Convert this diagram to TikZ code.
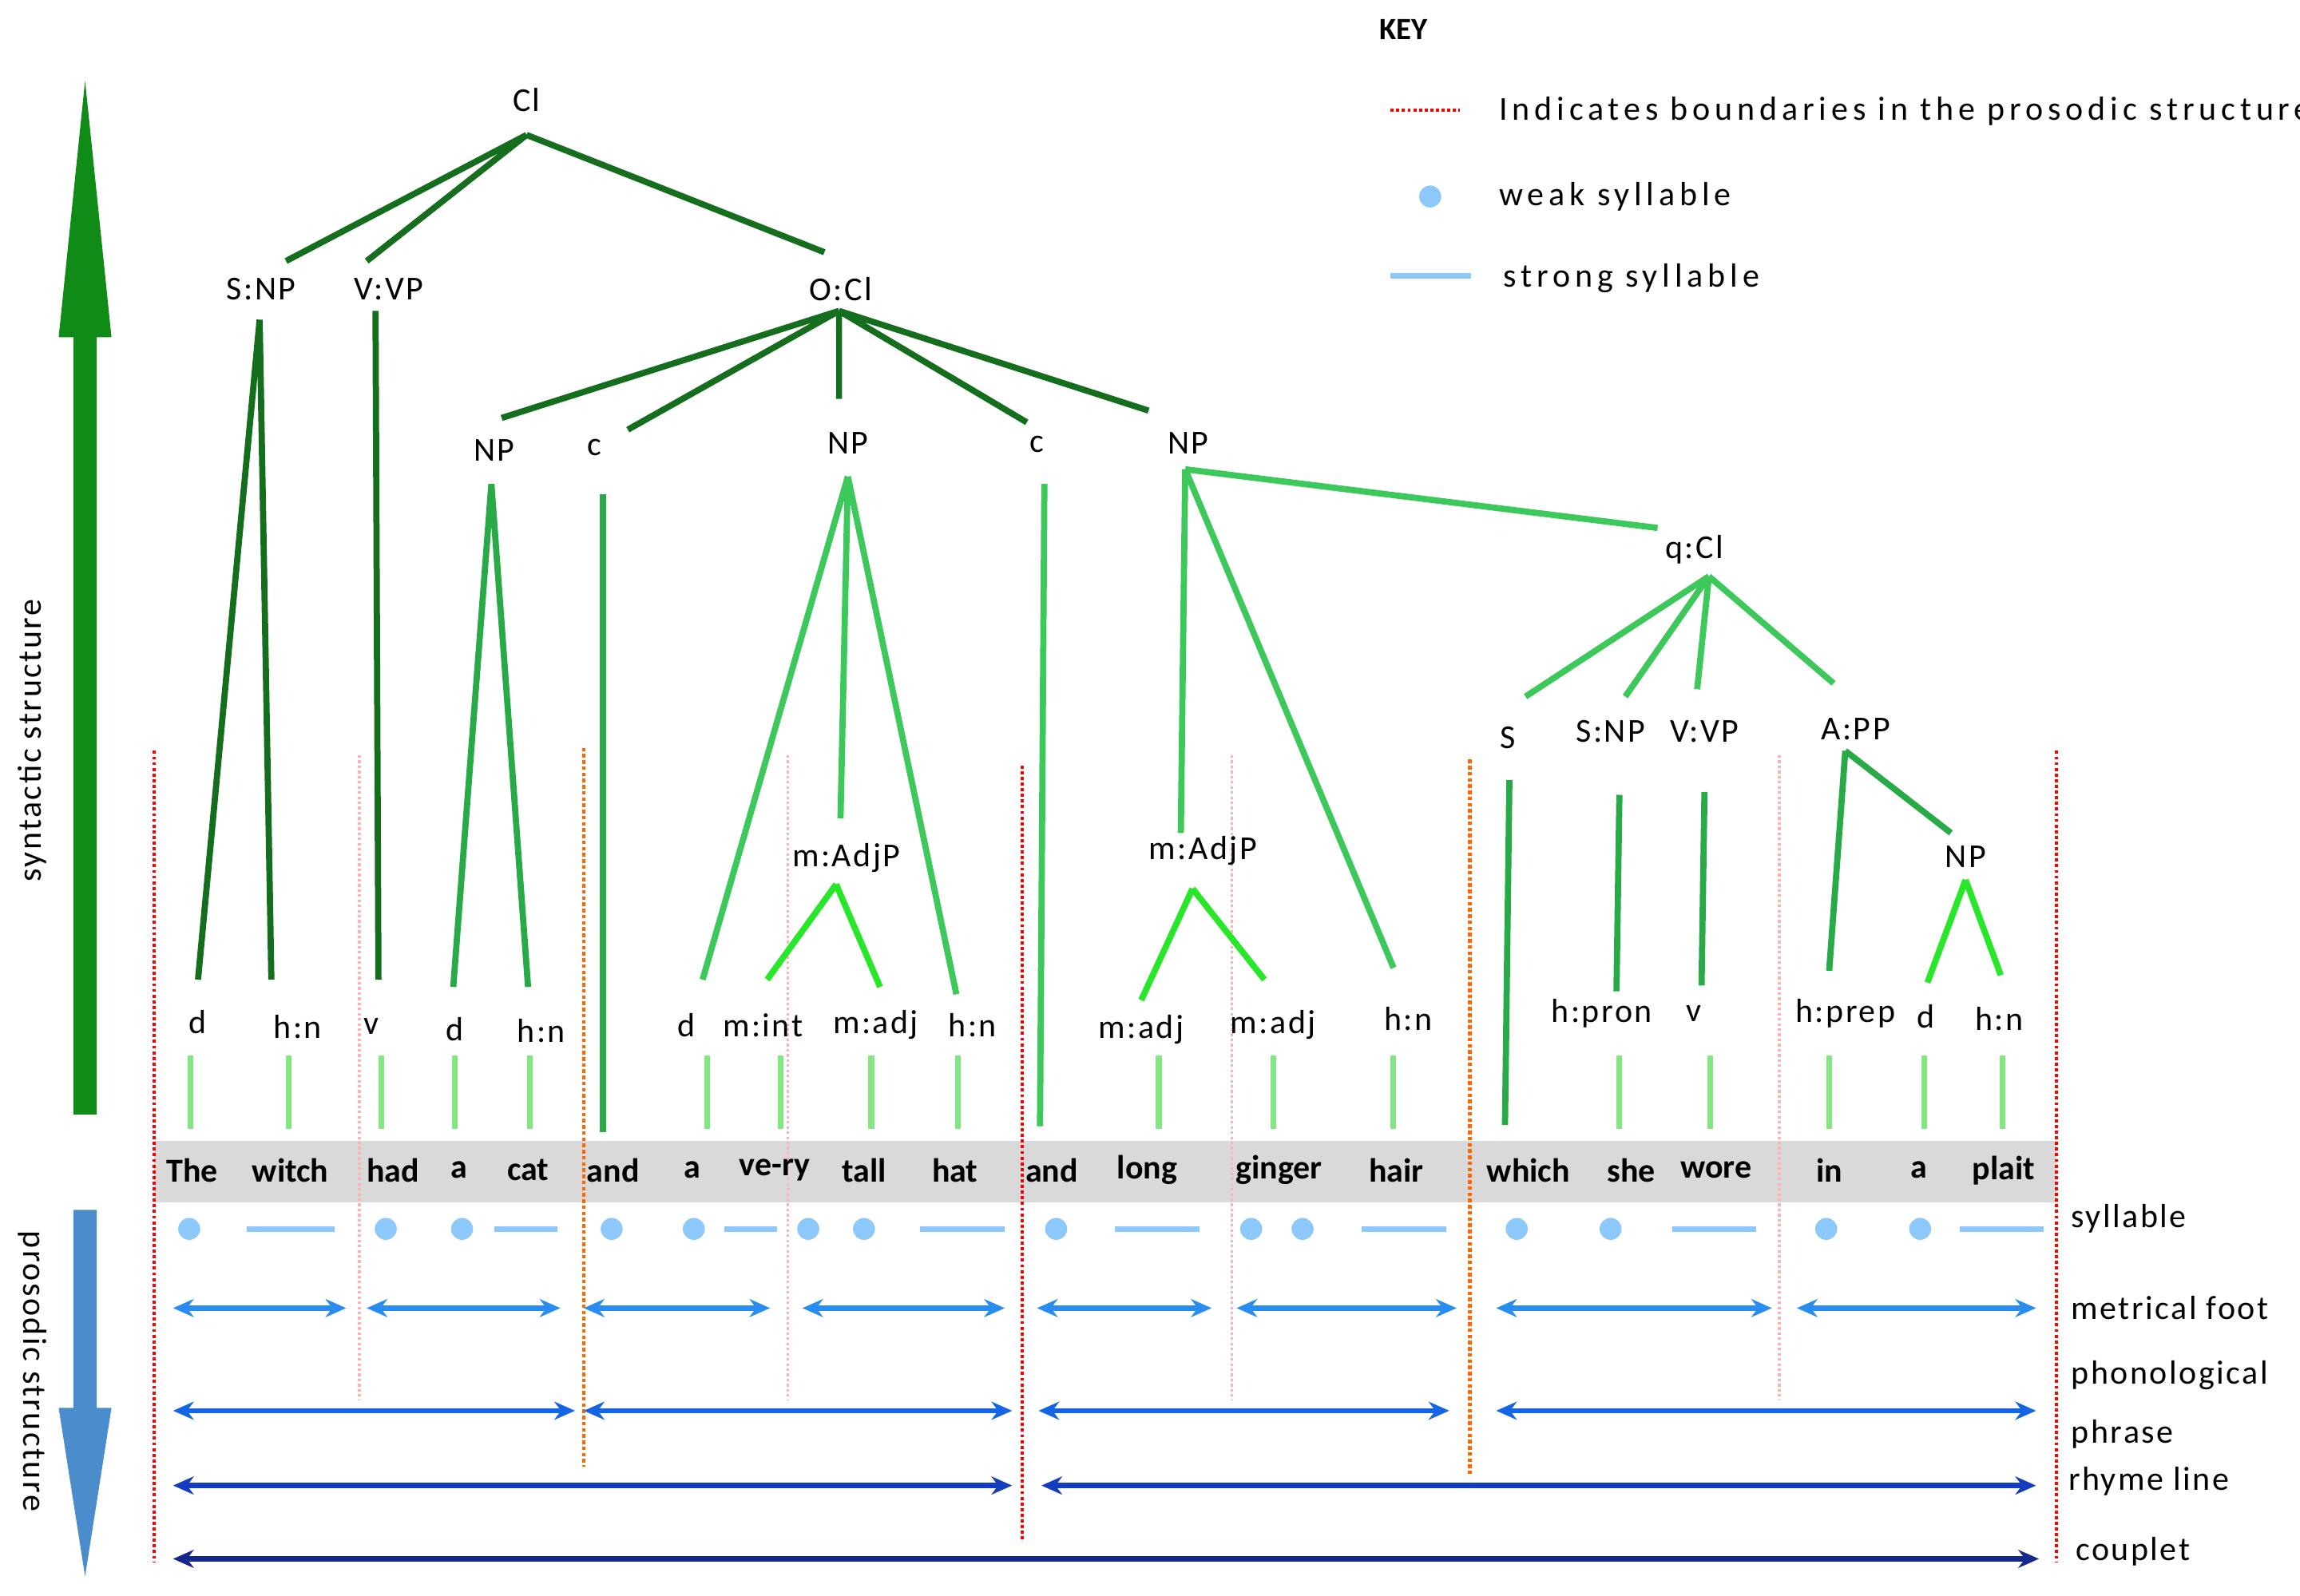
\documentclass[tikz,border=0pt]{standalone}
\usepackage{fontspec}
\setmainfont{Carlito}
\usetikzlibrary{arrows.meta}
\definecolor{g1}{RGB}{20,110,30}
\definecolor{g2}{RGB}{40,170,70}
\definecolor{g3}{RGB}{60,200,90}
\definecolor{g4}{RGB}{40,230,40}
\definecolor{gt}{RGB}{130,230,130}
\definecolor{lb}{RGB}{140,200,250}
\definecolor{b1}{RGB}{40,140,240}
\definecolor{b2}{RGB}{20,100,230}
\definecolor{b3}{RGB}{20,60,190}
\definecolor{b4}{RGB}{20,40,140}
\definecolor{sb}{RGB}{75,140,205}
\begin{document}
\begin{tikzpicture}[x=0.02cm,y=-0.02cm,
 lab/.style={font=\fontsize{13}{15}\selectfont\addfontfeature{LetterSpace=6},inner sep=1pt},
 klab/.style={font=\fontsize{13}{15}\selectfont\addfontfeature{LetterSpace=14},inner sep=1pt},
 word/.style={font=\fontsize{13}{15}\selectfont\bfseries,inner sep=1pt},
 e1/.style={g1,line width=2.4pt},
 e2/.style={g2,line width=2.4pt},
 e3/.style={g3,line width=2.4pt},
 e4/.style={g4,line width=2.4pt},
 tk/.style={gt,line width=2.2pt},
 dot/.style={lb,fill=lb,circle,inner sep=0pt,minimum size=0.3cm},
 sdash/.style={lb,line width=2.2pt},
 arr/.style={{Stealth[length=8pt,width=7pt]}-{Stealth[length=8pt,width=7pt]},line width=2pt},
 bred/.style={red,densely dotted,line width=1.2pt},
 bor/.style={orange!80!red,densely dotted,line width=1.4pt},
 bpk/.style={red!30,densely dotted,line width=1pt}]
\useasboundingbox (0,0) rectangle (1568,1088);
% band
\fill[black!15] (105,778) rectangle (1402,820);
% boundaries
\draw[bred] (105,512)--(105,1065);
\draw[bred] (1402,512)--(1402,1065);
\draw[bred] (697,522)--(697,1050);
\draw[bor] (398,510)--(398,1000);
\draw[bor] (1002,518)--(1002,1005);
\foreach \x in {245,537,840,1213} \draw[bpk] (\x,515)--(\x,955);
% left arrows
\fill[g1!80!green] (50,760)--(66,760)--(66,230)--(76,230)--(58,55)--(40,230)--(50,230)--cycle;
\fill[sb] (50,825)--(66,825)--(66,960)--(76,960)--(58,1075)--(40,960)--(50,960)--cycle;
\node[lab,rotate=90] (syn) at (22,505) {syntactic structure};
\node[lab,rotate=-90] (pro) at (22,935) {prosodic structure};
% tree labels
\node[lab] (cl) at (359,68) {Cl};
\node[lab] (snp) at (178,197) {S:NP};
\node[lab] (vvp) at (265,197) {V:VP};
\node[lab] (ocl) at (573,197) {O:Cl};
\node[lab] (np1) at (337,307) {NP};
\node[lab] (c1) at (405,305) {c};
\node[lab] (np2) at (578,302) {NP};
\node[lab] (c2) at (707,303) {c};
\node[lab] (np3) at (810,302) {NP};
\node[lab] (adj1) at (577,585) {m:AdjP};
\node[lab] (adj2) at (820,580) {m:AdjP};
\node[lab] (qcl) at (1155,375) {q:Cl};
\node[lab] (s) at (1028,503) {S};
\node[lab] (snp2) at (1098,499) {S:NP};
\node[lab] (vvp2) at (1162,499) {V:VP};
\node[lab] (app) at (1265,497) {A:PP};
\node[lab] (np4) at (1340,584) {NP};
% leaves
\node[lab] (l1) at (135,697) {d};
\node[lab] (l2) at (203,700) {h:n};
\node[lab] (l3) at (253,700) {v};
\node[lab] (l4) at (310,702) {d};
\node[lab] (l5) at (369,703) {h:n};
\node[lab] (l6) at (468,699) {d};
\node[lab] (l7) at (520,699) {m:int};
\node[lab] (l8) at (597,699) {m:adj};
\node[lab] (l9) at (663,699) {h:n};
\node[lab] (l10) at (778,702) {m:adj};
\node[lab] (l11) at (868,699) {m:adj};
\node[lab] (l12) at (960,695) {h:n};
\node[lab] (l13) at (1092,691) {h:pron};
\node[lab] (l14) at (1155,691) {v};
\node[lab] (l15) at (1258,691) {h:prep};
\node[lab] (l16) at (1313,693) {d};
\node[lab] (l17) at (1363,695) {h:n};
% edges
\draw[e1] (359,92)--(195,178) (359,92)--(250,178) (359,92)--(562,172);
\draw[e1] (177,218)--(135,668) (177,218)--(185,668);
\draw[e1] (256,212)--(258,668);
\draw[e1] (572,212)--(342,285) (572,212)--(428,293) (572,212)--(572,272) (572,212)--(700,288) (572,212)--(783,280);
\draw[e2] (335,330)--(309,673) (335,330)--(360,673);
\draw[e2] (411,337)--(411,772);
\draw[e3] (578,325)--(479,668) (578,325)--(573,558) (578,325)--(652,678);
\draw[e4] (570,603)--(523,668) (570,603)--(600,673);
\draw[e3] (712,330)--(709,768);
\draw[e3] (808,320)--(805,568) (808,320)--(950,660) (808,320)--(1130,360);
\draw[e4] (813,606)--(778,682) (813,606)--(862,668);
\draw[e3] (1165,393)--(1040,475) (1165,393)--(1108,475) (1165,393)--(1157,470) (1165,393)--(1250,466);
\draw[e2] (1029,532)--(1026,767) (1104,542)--(1102,676) (1162,540)--(1160,672);
\draw[e2] (1258,512)--(1247,662) (1258,512)--(1330,568);
\draw[e4] (1340,600)--(1314,670) (1340,600)--(1364,665);
\foreach \x in {130,197,260,310,361,482,532,594,653,790,868,950,1104,1166,1247,1312,1365}
  \draw[tk] (\x,720)--(\x,770);
% words
\foreach \x/\w in {131/The,198/witch,268/had,313/a,360/cat,418/and,472/a,528/ve-ry,589/tall,651/hat,717/and,782/long,872/ginger,952/hair,1042/which,1112/she,1170/wore,1247/in,1308/a,1366/plait}
  \node[word] (w\x) at (\x,798) {\w};
% syllables
\foreach \x in {129,263,315,417,473,551,589,720,853,888,1034,1098,1245,1309} \node[dot] (d\x) at (\x,838) {};
\foreach \a/\b in {168/228,337/380,494/530,627/685,760/818,928/986,1140/1197,1336/1393} \draw[sdash] (\a,838)--(\b,838);
% feet
\foreach \a/\b in {118/236,250/382,398/525,547/685,707/826,843/993,1020/1208,1225/1388} \draw[arr,b1] (\a,892)--(\b,892);
\foreach \a/\b in {118/392,398/690,708/988,1020/1388} \draw[arr,b2] (\a,962)--(\b,962);
\foreach \a/\b in {118/690,710/1388} \draw[arr,b3] (\a,1013)--(\b,1013);
\draw[arr,b4] (118,1063)--(1390,1063);
% right labels
\node[lab,anchor=west] (r1) at (1410,831) {syllable};
\node[lab,anchor=west] (r2) at (1410,892) {metrical foot};
\node[lab,anchor=west] (r3) at (1410,938) {phonological};
\node[lab,anchor=west] (r4) at (1410,978) {phrase};
\node[lab,anchor=west] (r5) at (1408,1010) {rhyme line};
\node[lab,anchor=west] (r6) at (1413,1058) {couplet};
% key
\node[inner sep=1pt,font=\fontsize{12}{14}\selectfont\bfseries] (key) at (957,20) {KEY};
\draw[bred] (948,75)--(995,75);
\node[klab,anchor=west] (k1) at (1020,76) {Indicates boundaries in the prosodic structure};
\node[dot] (kd) at (975,134) {};
\node[klab,anchor=west] (k2) at (1020,134) {weak syllable};
\draw[sdash] (948,188)--(1003,188);
\node[klab,anchor=west] (k3) at (1023,190) {strong syllable};
\end{tikzpicture}
\end{document}
